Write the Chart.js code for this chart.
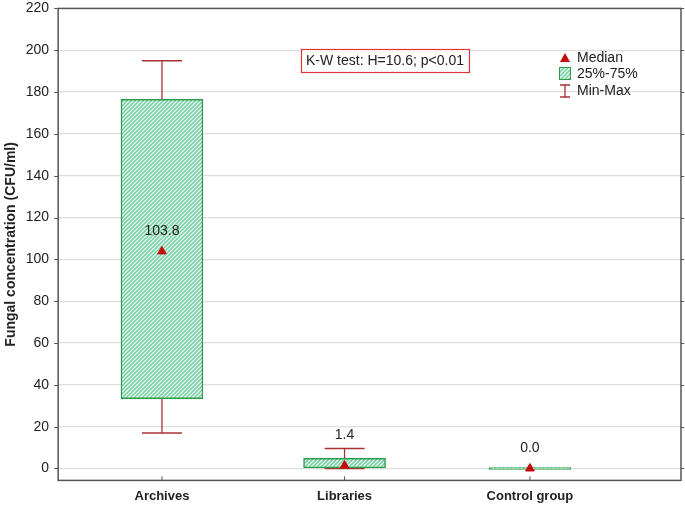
<!DOCTYPE html>
<html>
<head>
<meta charset="utf-8">
<script src="https://cdn.jsdelivr.net/npm/chart.js@4.4.1/dist/chart.umd.min.js"></script>
<style>
  html, body { margin: 0; padding: 0; background: #fff; }
  #wrap { width: 685px; height: 507px; position: relative; }
</style>
</head>
<body>
<div id="wrap"><canvas id="ch"></canvas></div>
<script>
// Fungal concentration by site: box = 25%-75%, whiskers = min-max, marker = median
var GROUPS  = ["Archives", "Libraries", "Control group"];
var POS     = [1, 1.985, 2.985];
var MINS    = [17, 0, 0];
var Q1      = [33.4, 0.3, 0];
var MEDIANS = [103.8, 1.4, 0.0];
var Q3      = [176.5, 4.8, 0];
var MAXS    = [195, 9.5, 0];
var Y_TICKS = [0, 20, 40, 60, 80, 100, 120, 140, 160, 180, 200, 220];
var NOTE    = "K-W test: H=10.6; p<0.01";

var GREEN = "#2f9c4c", HATCH = "#74d3a4", WHISK = "#a83232", RED = "#c40a0a",
    FRAME = "#555555", GRID = "#dedede", INK = "#222";
var FONT = "'Liberation Sans', Arial, sans-serif";

Chart.defaults.font.family = FONT;
Chart.defaults.color = INK;

function hatch() {
  var c = document.createElement("canvas"); c.width = 4; c.height = 4;
  var g = c.getContext("2d");
  g.fillStyle = "#fff"; g.fillRect(0, 0, 4, 4);
  g.strokeStyle = HATCH; g.lineWidth = 1.6;
  g.beginPath(); g.moveTo(-1, 5); g.lineTo(5, -1); g.moveTo(-1, 1); g.lineTo(1, -1); g.moveTo(3, 5); g.lineTo(5, 3); g.stroke();
  return g.createPattern(c, "repeat");
}
var PAT = hatch();

// whisker stems as broken line, caps as horizontal line points
var stems = [], caps = [];
GROUPS.forEach(function (g, i) {
  if (MAXS[i] > MINS[i]) {
    stems.push({ x: POS[i], y: MINS[i] }, { x: POS[i], y: MAXS[i] }, { x: POS[i], y: null });
    caps.push({ x: POS[i], y: MINS[i] }, { x: POS[i], y: MAXS[i] });
  }
});

var extras = {
  id: "extras",
  afterDraw: function (chart) {
    var ctx = chart.ctx, a = chart.chartArea, xs = chart.scales.x, ys = chart.scales.y;
    ctx.save();
    // frame + small outer ticks
    ctx.strokeStyle = FRAME; ctx.lineWidth = 1.5;
    ctx.strokeRect(a.left, a.top, a.right - a.left, a.bottom - a.top);
    ctx.lineWidth = 1;
    ctx.beginPath();
    Y_TICKS.forEach(function (v) {
      var y = Math.round(ys.getPixelForValue(v)) + 0.5;
      ctx.moveTo(a.left - 4, y); ctx.lineTo(a.left, y);
      ctx.moveTo(a.right, y); ctx.lineTo(a.right + 3, y);
    });
    POS.forEach(function (v) { var x = xs.getPixelForValue(v); ctx.moveTo(x, a.bottom); ctx.lineTo(x, a.bottom - 4); });
    ctx.stroke();
    // median labels
    ctx.fillStyle = INK; ctx.font = "14px " + FONT;
    ctx.textAlign = "center"; ctx.textBaseline = "middle";
    GROUPS.forEach(function (g, i) {
      var px = xs.getPixelForValue(POS[i]), my = ys.getPixelForValue(MEDIANS[i]);
      var ly = my - 20, wy = ys.getPixelForValue(MAXS[i]);
      if (wy > ly - 10 && wy < my) ly = wy - 13;
      ctx.fillText(MEDIANS[i].toFixed(1), px, ly);
    });
    // note box
    ctx.textAlign = "left";
    var tw = ctx.measureText(NOTE).width;
    ctx.fillStyle = "#fff"; ctx.fillRect(301, 49, tw + 10, 23);
    ctx.strokeStyle = "#e0333a"; ctx.lineWidth = 1.2;
    ctx.strokeRect(301.5, 49.5, tw + 10, 23);
    ctx.fillStyle = INK; ctx.fillText(NOTE, 306, 61);
    // legend
    var lx = 565;
    ctx.fillStyle = RED;
    ctx.beginPath(); ctx.moveTo(lx, 53); ctx.lineTo(lx + 5, 62); ctx.lineTo(lx - 5, 62); ctx.closePath(); ctx.fill();
    ctx.fillStyle = PAT; ctx.fillRect(lx - 5, 68, 10, 11);
    ctx.strokeStyle = GREEN; ctx.lineWidth = 1; ctx.strokeRect(lx - 5.5, 67.5, 11, 12);
    ctx.strokeStyle = WHISK; ctx.lineWidth = 1.3;
    ctx.beginPath(); ctx.moveTo(lx - 5, 85); ctx.lineTo(lx + 5, 85); ctx.moveTo(lx, 85); ctx.lineTo(lx, 97);
    ctx.moveTo(lx - 5, 97); ctx.lineTo(lx + 5, 97); ctx.stroke();
    ctx.fillStyle = INK;
    ctx.fillText("Median", 577, 58);
    ctx.fillText("25%-75%", 577, 74);
    ctx.fillText("Min-Max", 577, 91);
    ctx.restore();
  }
};

new Chart(document.getElementById("ch"), {
  data: {
    datasets: [
      { type: "line", data: stems, borderColor: WHISK, borderWidth: 1.3, pointRadius: 0, spanGaps: false, order: 3 },
      { type: "scatter", data: caps, pointStyle: "line", radius: 20, borderColor: WHISK, borderWidth: 1.5, order: 2 },
      {
        type: "bar",
        data: GROUPS.map(function (g, i) { return { x: POS[i], y: [Q1[i], Q3[i]] }; }),
        backgroundColor: PAT, borderColor: GREEN, borderWidth: 1.5, borderSkipped: false,
        barThickness: 82, minBarLength: 2, order: 1
      },
      {
        type: "scatter",
        data: GROUPS.map(function (g, i) { return { x: POS[i], y: MEDIANS[i] }; }),
        pointStyle: "triangle", radius: 5, backgroundColor: RED, borderColor: RED, borderWidth: 1, order: 0
      }
    ]
  },
  options: {
    responsive: true, maintainAspectRatio: false, animation: false,
    layout: { autoPadding: false, padding: { top: -7, right: 4, left: 0, bottom: -5 } },
    plugins: { legend: { display: false }, tooltip: { enabled: false } },
    scales: {
      x: {
        type: "linear", min: 0.44, max: 3.8, offset: false,
        afterBuildTicks: function (s) { s.ticks = POS.map(function (v) { return { value: v }; }); },
        ticks: { callback: function (v, i) { return GROUPS[i]; }, font: { size: 13, weight: "bold" }, color: INK, padding: 8, maxRotation: 0 },
        grid: { display: false, drawTicks: false },
        border: { display: false }
      },
      y: {
        min: -5.7, max: 220,
        afterBuildTicks: function (s) { s.ticks = Y_TICKS.map(function (v) { return { value: v }; }); },
        ticks: { font: { size: 14 }, color: INK, padding: 0 },
        grid: { color: GRID, tickLength: 9, tickColor: "rgba(0,0,0,0)", lineWidth: 1.2 },
        border: { display: false },
        title: { display: true, text: "Fungal concentration (CFU/ml)", font: { size: 14, weight: "bold" }, color: INK, padding: { top: 3, bottom: 6 } }
      }
    }
  },
  plugins: [extras]
});
</script>
</body>
</html>
